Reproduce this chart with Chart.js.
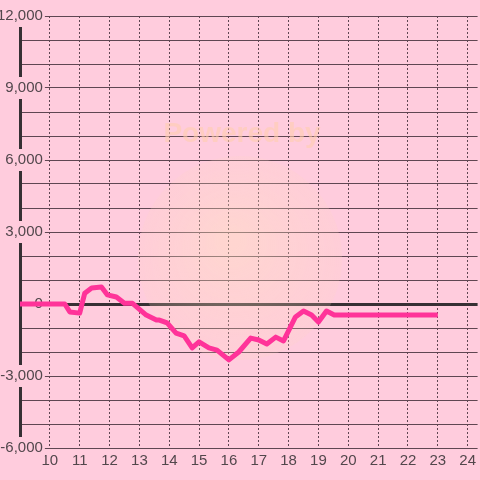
<!DOCTYPE html>
<html>
<head>
<meta charset="utf-8">
<script src="https://cdn.jsdelivr.net/npm/chart.js@4"></script>
<style>
  html, body { margin: 0; padding: 0; background: #ffccdd; }
  #wrap { width: 480px; height: 480px; }
</style>
</head>
<body>
<div id="wrap"><canvas id="balanceChart"></canvas></div>
<script>
// data
const hours = [9, 10.5, 10.67, 11, 11.17, 11.4, 11.73, 11.93, 12.23, 12.5, 12.77, 13.23, 13.57, 13.67,
  13.93, 14.23, 14.5, 14.77, 15, 15.33, 15.6, 16, 16.33, 16.73, 17, 17.27, 17.57, 17.83,
  18.23, 18.5, 18.77, 19, 19.27, 19.53, 23];
const balance = [0, 0, -330, -380, 450, 670, 710, 380, 290, 30, 30, -460, -670, -670,
  -790, -1210, -1330, -1830, -1580, -1830, -1920, -2330, -2000, -1420, -1500, -1670, -1380, -1540,
  -540, -290, -460, -750, -290, -460, -460];
const xTicks = [10, 11, 12, 13, 14, 15, 16, 17, 18, 19, 20, 21, 22, 23, 24];
const yLabelStep = 3000;

const gridColor = "#5f4652";
const axisColor = "#363034";
const textColor = "#52474c";

// faint watermark behind the line
const watermark = {
  id: "watermark",
  beforeDatasetsDraw(chart) {
    const ctx = chart.ctx;
    ctx.save();
    const g = ctx.createRadialGradient(230, 240, 10, 240, 258, 102);
    g.addColorStop(0, "rgba(255, 228, 190, 0.4)");
    g.addColorStop(1, "rgba(255, 215, 195, 0.2)");
    ctx.fillStyle = g;
    ctx.beginPath();
    ctx.arc(240, 258, 102, 0, Math.PI * 2);
    ctx.fill();
    ctx.fillStyle = "rgba(255, 205, 175, 0.6)";
    ctx.font = "bold 28px 'Liberation Sans'";
    ctx.textAlign = "center";
    ctx.textBaseline = "middle";
    ctx.fillText("Powered by", 242, 134);
    ctx.restore();
  }
};

new Chart(document.getElementById("balanceChart"), {
  type: "line",
  data: {
    datasets: [{
      data: hours.map((h, i) => ({ x: h, y: balance[i] })),
      borderColor: "#ff3399",
      borderWidth: 5,
      borderJoinStyle: "round",
      borderCapStyle: "butt",
      tension: 0,
      pointRadius: 0,
      fill: false
    }]
  },
  options: {
    responsive: true,
    maintainAspectRatio: false,
    animation: false,
    layout: { padding: { top: 16, left: 0, right: 0, bottom: 0 } },
    plugins: {
      legend: { display: false },
      tooltip: { enabled: false }
    },
    scales: {
      x: {
        type: "linear",
        min: 9,
        max: 24 + 1 / 3,
        afterBuildTicks: (s) => { s.ticks = xTicks.map(v => ({ value: v })); },
        afterFit: (s) => { s.height = 32; },
        grid: { color: gridColor, lineWidth: 1, drawTicks: false },
        border: { display: false, dash: [2, 2] },
        ticks: {
          color: textColor,
          font: { family: "'Liberation Sans', Arial", size: 15 },
          padding: 4,
          maxRotation: 0,
          autoSkip: false
        }
      },
      y: {
        min: -6000,
        max: 12000,
        afterFit: (s) => { s.width = 20; },
        grid: {
          drawTicks: false,
          color: (c) => c.tick && c.tick.value === 0 ? axisColor : gridColor,
          lineWidth: (c) => c.tick && c.tick.value === 0 ? 3 : 1
        },
        border: { display: true, color: axisColor, width: 3 },
        ticks: {
          stepSize: 1000,
          color: textColor,
          font: { family: "'Liberation Sans', Arial", size: 15 },
          mirror: true,
          crossAlign: "far",
          padding: -23,
          autoSkip: false,
          showLabelBackdrop: (c) => c.tick && c.tick.value % yLabelStep === 0,
          backdropColor: "#ffccdd",
          backdropPadding: 2,
          callback: (v) => v % yLabelStep === 0 ? v.toLocaleString("en-US") : ""
        }
      }
    }
  },
  plugins: [watermark]
});
</script>
</body>
</html>
